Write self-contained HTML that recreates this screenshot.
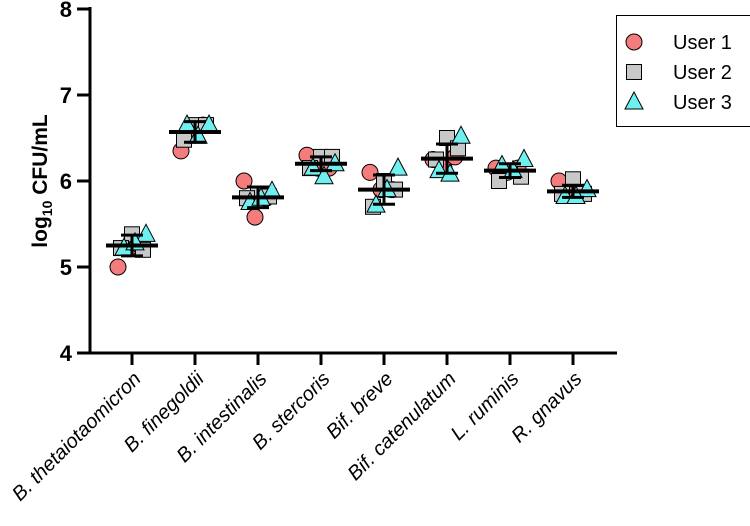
<!DOCTYPE html>
<html><head><meta charset="utf-8"><style>
body{margin:0;background:#fff;width:750px;height:521px;overflow:hidden}
svg{font-family:"Liberation Sans",Arial,sans-serif}
</style></head><body>
<svg id="chart" width="750" height="521"></svg>
<script>
const categories=["B. thetaiotaomicron","B. finegoldii","B. intestinalis","B. stercoris","Bif. breve","Bif. catenulatum","L. ruminis","R. gnavus"];
const user1=[[5.0,5.22,5.25],[6.35,6.55,6.65],[6.0,5.58,5.8],[6.3,6.15,6.15],[6.1,5.9,5.9],[6.25,6.15,6.28],[6.15,6.1,6.15],[6.0,5.88,5.85]];
const user2=[[5.38,5.2,5.22],[6.65,6.65,6.48],[5.85,5.82,5.8],[6.28,6.28,6.15],[6.0,5.9,5.7],[6.5,6.38,6.25],[6.12,6.05,6.0],[6.02,5.85,5.85]];
const user3=[[5.38,5.22,5.28],[6.65,6.65,6.52],[5.88,5.75,5.8],[6.2,6.15,6.05],[6.15,5.72,5.9],[6.52,6.12,6.08],[6.25,6.18,6.12],[5.9,5.82,5.82]];
const means=[5.25,6.57,5.81,6.20,5.90,6.26,6.12,5.88];
const errs=[0.12,0.12,0.12,0.08,0.17,0.17,0.08,0.07];
const yTicks=[4,5,6,7,8];
const seriesNames=["User 1","User 2","User 3"];

const NS="http://www.w3.org/2000/svg";
const svg=document.getElementById('chart');
function el(t,a,p){const e=document.createElementNS(NS,t);for(const k in a)e.setAttribute(k,a[k]);(p||svg).appendChild(e);return e;}
const y=v=>353-(v-4)*86;
const x=i=>132+i*63;
const jit=[-11,0,11];

let ax=el('line',{x1:90,y1:7,x2:90,y2:354,stroke:'#000','stroke-width':3});

let bx=el('line',{x1:89,y1:353,x2:617,y2:353,stroke:'#000','stroke-width':3});

yTicks.forEach(v=>{
  const t=el('line',{x1:77,y1:y(v),x2:90,y2:y(v),stroke:'#000','stroke-width':3});
  
  const l=el('text',{x:72,y:y(v)+8,'text-anchor':'end','font-size':22,'font-weight':'bold'});
  l.textContent=v;
  
});
const yt=el('text',{transform:'translate(47,181) rotate(-90)','text-anchor':'middle','font-size':21,'font-weight':'bold'});

yt.innerHTML='log<tspan font-size="14" dy="5">10</tspan><tspan dy="-5"> CFU/mL</tspan>';

categories.forEach((c,i)=>{
  const t=el('line',{x1:x(i),y1:353,x2:x(i),y2:365,stroke:'#000','stroke-width':3});
  
  const l=el('text',{transform:`translate(${x(i)+10},${380}) rotate(-45)`,'text-anchor':'end','font-size':20,'font-style':'italic'});
  l.textContent=c;
  
});

function marker(s,cx,cy,g){
  let m;
  if(s===0)m=el('circle',{cx:cx,cy:cy,r:8,fill:'#f47c7c',stroke:'#000','stroke-width':1},g);
  else if(s===1)m=el('rect',{x:cx-7.5,y:cy-7.5,width:15,height:15,fill:'#c8c8c8',stroke:'#000','stroke-width':1},g);
  else m=el('polygon',{points:`${cx},${cy-10} ${cx-9},${cy+7} ${cx+9},${cy+7}`,fill:'#6ff0f0',stroke:'#000','stroke-width':1},g);
  return m;
}
const all=[user1,user2,user3];
categories.forEach((c,i)=>{
  const g=el('g',{});
  
  all.forEach((ser,s)=>{
    ser[i].forEach((v,k)=>{
      const m=marker(s,x(i)+jit[(k+s)%3]+(s-1)*3,y(v),g);
      
      
    });
  });
  const cx=x(i);
  const ml=el('line',{x1:cx-26,y1:y(means[i]),x2:cx+26,y2:y(means[i]),stroke:'#000','stroke-width':4},g);
  
  const eb=el('line',{x1:cx,y1:y(means[i]+errs[i]),x2:cx,y2:y(means[i]-errs[i]),stroke:'#000','stroke-width':3},g);
  
  [1,-1].forEach(d=>{
    const cp=el('line',{x1:cx-11,y1:y(means[i]+d*errs[i]),x2:cx+11,y2:y(means[i]+d*errs[i]),stroke:'#000','stroke-width':3},g);
    
  });
});

const lg=el('g',{});

el('rect',{x:616.5,y:15.5,width:140,height:111,fill:'#fff',stroke:'#000','stroke-width':1},lg);
seriesNames.forEach((n,s)=>{
  const gy=42+s*30;
  const m=marker(s,634,gy,lg);
  
  const t=el('text',{x:673,y:gy+7,'font-size':20},lg);
  t.textContent=n;
  
});
</script>
</body></html>
